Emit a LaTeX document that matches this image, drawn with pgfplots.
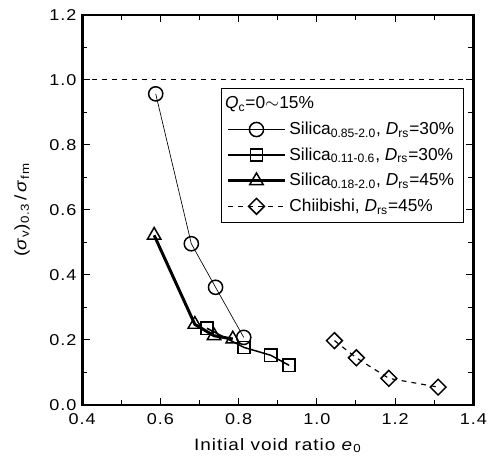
\documentclass[border=0pt]{standalone}
\usepackage{fontspec}
\setmainfont{Liberation Sans}[FakeStretch=1.15, LetterSpace=6]
\newfontfamily\legendfont{Liberation Sans}
\usepackage{pgfplots}
\pgfplotsset{compat=1.18}

\begin{document}
\begin{tikzpicture}
\useasboundingbox (-49.8pt,-35.4pt) rectangle (246.5pt,245.4pt);
\begin{axis}[
    at={(0,0)}, anchor=south west,
    scale only axis, width=237pt, height=236.4pt,
    xmin=0.4, xmax=1.4, ymin=0, ymax=1.2,
    xtick={0.4,0.6,...,1.4}, ytick={0,0.2,...,1.2},
    minor x tick num=1, minor y tick num=1,
    tick pos=both, tick align=inside,
    major tick length=4.5pt, minor tick length=3pt,
    axis line style={line width=1.6pt},
    tick style={line width=0.6pt, black},
    /pgf/number format/assume math mode=true,
    /pgf/number format/fixed, /pgf/number format/fixed zerofill,
    /pgf/number format/precision=1,
    ticklabel style={font=\fontsize{9.5}{11}\selectfont},
    xticklabel style={yshift=-1.5pt},
    xlabel={Initial void ratio \textit{e}\textsubscript{0}},
    ylabel={(\textit{σ}\textsubscript{v})\textsubscript{0.3}\,/\,\textit{σ}\textsubscript{fm}},
    label style={font=\fontsize{10}{12}\selectfont},
    xlabel style={yshift=-1.5pt},
    ylabel style={yshift=5pt},
    legend cell align=left,
    legend style={at={(0.975,0.812)}, anchor=north east,
        font=\legendfont\fontsize{10.5}{12.5}\selectfont, draw=black, line width=0.5pt,
        row sep=2.4pt, inner xsep=3.5pt, inner ysep=3pt},
    legend image code/.code={\draw[mark repeat=2,mark phase=2]
        plot coordinates {(0cm,0cm) (0.6cm,0cm) (1.2cm,0cm)};},
]
\addlegendimage{empty legend}
\addlegendentry{\hspace*{-39pt}\textit{Q}\textsubscript{c}=0$\sim$15\%}

\addplot[black, line width=0.4pt, mark=o, mark size=4.3pt,
    mark options={solid, fill=white, line width=0.9pt}] coordinates {
    (0.588,0.957)(0.679,0.496)(0.741,0.362)(0.813,0.208)
};
\addlegendentry{Silica\textsubscript{0.85-2.0}, \textit{D}\textsubscript{rs}=30\%}

\addplot[black, line width=0.9pt, mark=square, mark size=3.7pt,
    mark options={solid, fill=white, line width=0.9pt}] coordinates {
    (0.719,0.236)(0.814,0.177)(0.882,0.153)(0.929,0.122)
};
\addlegendentry{Silica\textsubscript{0.11-0.6}, \textit{D}\textsubscript{rs}=30\%}

\addplot[black, line width=1.8pt, mark=triangle, mark size=4.7pt,
    mark options={solid, fill=white, line width=0.9pt}] coordinates {
    (0.584,0.522)(0.688,0.248)(0.737,0.213)(0.785,0.203)
};
\addlegendentry{Silica\textsubscript{0.18-2.0}, \textit{D}\textsubscript{rs}=45\%}

\addplot[black, line width=0.7pt, dashed, mark=square, mark size=3.4pt,
    mark options={solid, fill=white, line width=0.9pt, rotate=45}] coordinates {
    (1.045,0.198)(1.101,0.145)(1.184,0.082)(1.310,0.055)
};
\addlegendentry{Chiibishi, \textit{D}\textsubscript{rs}=45\%}

\addplot[black, line width=0.6pt, dashed, forget plot] coordinates {(0.4,1)(1.4,1)};
\end{axis}
\end{tikzpicture}
\end{document}
